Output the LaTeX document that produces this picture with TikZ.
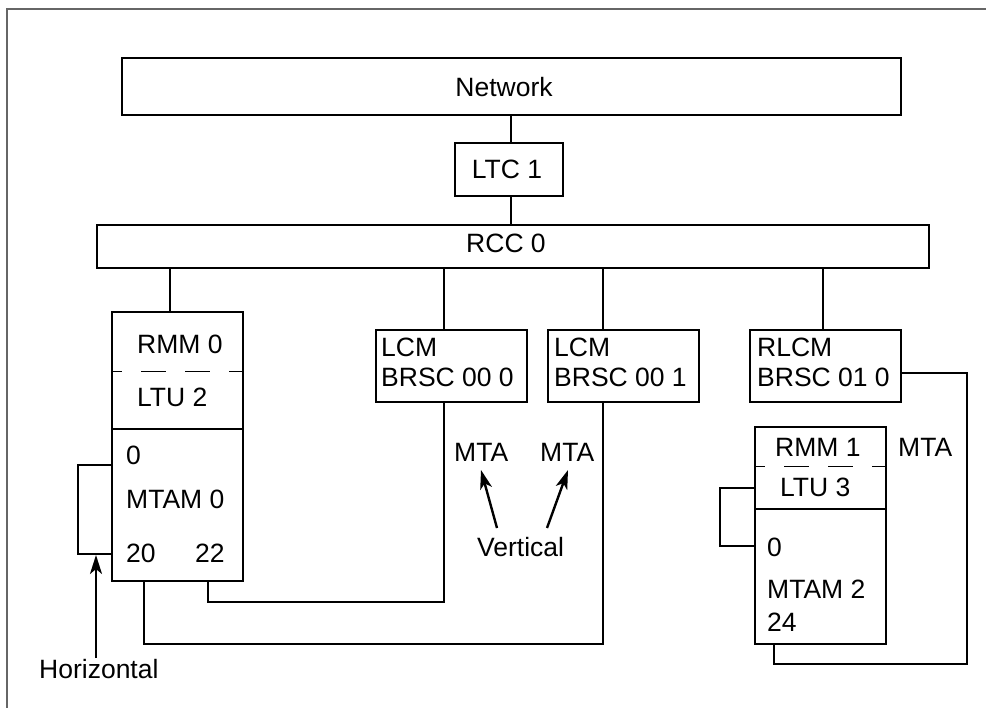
\documentclass[tikz,border=0pt]{standalone}
\usepackage{fontspec}
\setmainfont{Liberation Sans}
\usetikzlibrary{arrows.meta}
\begin{document}
\begin{tikzpicture}[x=1pt,y=-1pt,
  box/.style={draw,line width=2.4pt,rectangle,inner sep=0pt,anchor=north west},
  lbl/.style={inner sep=0pt,anchor=base west,font=\fontsize{26.5}{31}\selectfont},
  clbl/.style={inner sep=0pt,anchor=base,font=\fontsize{26.5}{31}\selectfont},
  conn/.style={line width=2.4pt},
  divdash/.style={line width=1pt,dash pattern=on 25pt off 19pt,dash phase=14pt},
  arr/.style={line width=2.4pt,-{Stealth[length=19pt,width=12pt,inset=5pt]}}]
\useasboundingbox (0,0) rectangle (986,708);
\fill[white] (0,0) rectangle (986,708);
% frame
\draw[gray!80!black,line width=1.5pt] (7,708) -- (7,9) -- (986,9);
% boxes
\node[box,minimum width=779pt,minimum height=57pt] (net) at (121,57) {};
\node[box,minimum width=108pt,minimum height=53pt] (ltc) at (454,142) {};
\node[box,minimum width=832pt,minimum height=43pt] (rcc) at (96,224) {};
\node[box,minimum width=131pt,minimum height=117pt] (rmma) at (111,311) {};
\node[box,minimum width=131pt,minimum height=152pt] (mtama) at (111,428) {};
\node[box,minimum width=151pt,minimum height=72pt] (lcma) at (375,329) {};
\node[box,minimum width=151pt,minimum height=72pt] (lcmb) at (547,329) {};
\node[box,minimum width=151pt,minimum height=72pt] (rlcm) at (749,329) {};
\node[box,minimum width=131pt,minimum height=82pt] (rmmb) at (754,426) {};
\node[box,minimum width=131pt,minimum height=135pt] (mtamb) at (754,508) {};
% dashed dividers
\draw[divdash] (rmma.west |- 0,372) -- (rmma.east |- 0,372);
\draw[divdash] (rmmb.west |- 0,467) -- (rmmb.east |- 0,467);
% texts
\node[clbl] (tnet) at (504,97) {Network};
\node[clbl] (tltc) at (507,179) {LTC 1};
\node[clbl] (trcc) at (506,253) {RCC 0};
\node[lbl] (trmma) at (137,354) {RMM 0};
\node[lbl] (tltua) at (137,407) {LTU 2};
\node[lbl] (tza) at (126,465) {0};
\node[lbl] (tmtama) at (126,509) {MTAM 0};
\node[lbl] (t20) at (126,562) {20};
\node[lbl] (t22) at (195,562) {22};
\node[lbl] (tlcma1) at (381,357) {LCM};
\node[lbl] (tlcma2) at (381,387) {BRSC 00 0};
\node[lbl] (tlcmb1) at (554,357) {LCM};
\node[lbl] (tlcmb2) at (554,387) {BRSC 00 1};
\node[lbl] (trlcm1) at (757,357) {RLCM};
\node[lbl] (trlcm2) at (757,387) {BRSC 01 0};
\node[lbl] (trmmb) at (775,457) {RMM 1};
\node[lbl] (tltub) at (780,497) {LTU 3};
\node[lbl] (tzb) at (767,557) {0};
\node[lbl] (tmtamb) at (767,598) {MTAM 2};
\node[lbl] (t24) at (767,631) {24};
\node[lbl] (mtar) at (898,457) {MTA};
\node[lbl] (mtaa) at (454,462) {MTA};
\node[lbl] (mtab) at (540,462) {MTA};
\node[lbl] (vert) at (477,556) {Vertical};
\node[lbl] (hor) at (39,678) {Horizontal};
% connectors
\coordinate (xa) at (511,0);
\draw[conn] (net.south -| xa) -- (ltc.north -| xa);
\draw[conn] (ltc.south -| xa) -- (rcc.north -| xa);
\coordinate (x1) at (170,0);
\coordinate (x2) at (444,0);
\coordinate (x3) at (603,0);
\coordinate (x4) at (823,0);
\draw[conn] (rcc.south -| x1) -- (rmma.north -| x1);
\draw[conn] (rcc.south -| x2) -- (lcma.north -| x2);
\draw[conn] (rcc.south -| x3) -- (lcmb.north -| x3);
\draw[conn] (rcc.south -| x4) -- (rlcm.north -| x4);
% MTAM 0 loop
\coordinate (l1) at (78,465);
\coordinate (l2) at (78,554);
\draw[conn] (mtama.west |- l1) -- (l1) -- (l2) -- (mtama.west |- l2);
% MTAM 0 to LCMs
\coordinate (b1) at (208,602);
\coordinate (b2) at (144,644);
\draw[conn] (mtama.south -| b1) -- (b1) -- (b1 -| x2) -- (lcma.south -| x2);
\draw[conn] (mtama.south -| b2) -- (b2) -- (b2 -| x3) -- (lcmb.south -| x3);
% RLCM to MTAM 2
\coordinate (r1) at (967,373);
\coordinate (r2) at (967,664);
\coordinate (r3) at (774,664);
\draw[conn] (rlcm.east |- r1) -- (r1) -- (r2) -- (r3) -- (mtamb.south -| r3);
% MTAM 2 loop
\coordinate (m1) at (720,488);
\coordinate (m2) at (720,546);
\draw[conn] (rmmb.west |- m1) -- (m1) -- (m2) -- (mtamb.west |- m2);
% arrows
\coordinate (h0) at (96,658);
\coordinate (h1) at (96,555);
\draw[arr] (h0) -- (h1);
\coordinate (va0) at (497,528);
\coordinate (va1) at (481,470);
\coordinate (vb0) at (547,528);
\coordinate (vb1) at (568,470);
\draw[arr] (va0) -- (va1);
\draw[arr] (vb0) -- (vb1);
\end{tikzpicture}
\end{document}
